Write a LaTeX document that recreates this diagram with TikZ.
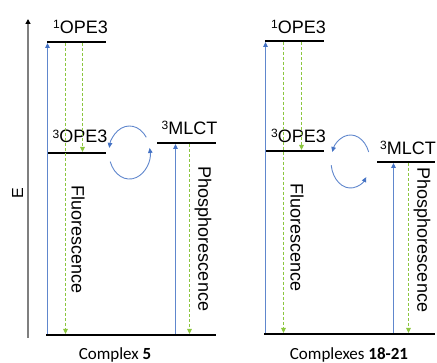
\documentclass[tikz,border=0pt]{standalone}
\usepackage{fontspec}
\setmainfont{Liberation Sans}
\newfontfamily\capfont{Carlito}
\usetikzlibrary{arrows.meta}
\definecolor{eblue}{HTML}{4472C4}
\definecolor{egreen}{HTML}{8CC63F}
\definecolor{axgray}{HTML}{7F7F7F}
\newcommand{\sps}[1]{\raisebox{4.2pt}{\fontsize{12}{12}\selectfont #1}}
\begin{document}
\begin{tikzpicture}[x=1pt,y=-1pt,
  level/.style={line width=1.8pt, black},
  excite/.style={eblue!85, line width=1pt, -{Triangle[length=5pt,width=4.5pt,color=eblue,fill=eblue]}},
  emit/.style={egreen, line width=1pt, dash pattern=on 3pt off 2pt, -{Triangle[length=5pt,width=4.5pt]}},
  isc/.style={eblue!85, line width=0.9pt, -{Triangle[length=5pt,width=4.5pt,color=eblue,fill=eblue]}},
  axis/.style={axgray, line width=1.5pt, -{Triangle[length=5pt,width=5pt,color=black,fill=black]}},
  lbl/.style={font=\fontsize{18}{20}\selectfont, inner sep=0pt},
  capl/.style={font=\capfont\fontsize{17}{19}\selectfont, inner sep=0pt}]
\useasboundingbox (0,0) rectangle (437,363);

% ---------------- left panel ----------------
\coordinate (axB) at (28,338);
\coordinate (axT) at (28,19);
\draw[axis] (axB) -- (axT);
\node[lbl, font=\fontsize{16}{18}\selectfont, rotate=90] (E) at (17.5,193) {E};

\coordinate (aS1l) at (47,42);  \coordinate (aS1r) at (106,42);
\coordinate (aT1l) at (47,153); \coordinate (aT1r) at (106,153);
\coordinate (aMl) at (157,143); \coordinate (aMr) at (216,143);
\coordinate (aGl) at (46,335);  \coordinate (aGr) at (216,335);
\draw[level] (aS1l) -- (aS1r);
\draw[level] (aT1l) -- (aT1r);
\draw[level] (aMl) -- (aMr);
\draw[level] (aGl) -- (aGr);

\node[lbl] (aS1t) at (80.5,27) {\sps{1}OPE3};
\node[lbl] (aT1t) at (80,136.5) {\sps{3}OPE3};
\node[lbl] (aMt) at (189.5,128) {\sps{3}MLCT};

\coordinate (aX1b) at (47.5,334); \coordinate (aX1t) at (47.5,43);
\draw[excite] (aX1b) -- (aX1t);
\coordinate (aF1t) at (65.5,43);  \coordinate (aF1b) at (65.5,334);
\draw[emit] (aF1t) -- (aF1b);
\coordinate (aIt) at (82.5,43);   \coordinate (aIb) at (82.5,152);
\draw[emit] (aIt) -- (aIb);
\coordinate (aX2b) at (175.5,334); \coordinate (aX2t) at (175.5,144);
\draw[excite] (aX2b) -- (aX2t);
\coordinate (aP1t) at (189.5,144); \coordinate (aP1b) at (189.5,334);
\draw[emit] (aP1t) -- (aP1b);

\node[lbl, rotate=-90] (aF) at (78,240) {Fluorescence};
\node[lbl, rotate=-90] (aP) at (203,239) {Phosphorescence};

% intersystem crossing cycle (centre 129.5,152.5)
\coordinate (aCu) at (146.3,137.3);
\coordinate (aCd) at (110.2,161.6);
\draw[isc] (aCu) arc[start angle=-35, end angle=-170, x radius=20.5, y radius=26.5];
\draw[isc] (aCd) arc[start angle=-200, end angle=-370, x radius=20.5, y radius=26.5];

\node[capl] (aCap) at (115,355) {Complex \textbf{5}};

% ---------------- right panel ----------------
\coordinate (bS1l) at (265,41);  \coordinate (bS1r) at (324,41);
\coordinate (bT1l) at (265,151); \coordinate (bT1r) at (324,151);
\coordinate (bMl) at (377,162);  \coordinate (bMr) at (435,162);
\coordinate (bGl) at (264,334);  \coordinate (bGr) at (435,334);
\draw[level] (bS1l) -- (bS1r);
\draw[level] (bT1l) -- (bT1r);
\draw[level] (bMl) -- (bMr);
\draw[level] (bGl) -- (bGr);

\node[lbl] (bS1t) at (298.5,27) {\sps{1}OPE3};
\node[lbl] (bT1t) at (298.5,136) {\sps{3}OPE3};
\node[lbl] (bMt) at (408,148) {\sps{3}MLCT};

\coordinate (bX1b) at (265.5,333); \coordinate (bX1t) at (265.5,42);
\draw[excite] (bX1b) -- (bX1t);
\coordinate (bF1t) at (283.5,42);  \coordinate (bF1b) at (283.5,333);
\draw[emit] (bF1t) -- (bF1b);
\coordinate (bIt) at (301.5,42);   \coordinate (bIb) at (301.5,150);
\draw[emit] (bIt) -- (bIb);
\coordinate (bX2b) at (393.5,333); \coordinate (bX2t) at (393.5,163);
\draw[excite] (bX2b) -- (bX2t);
\coordinate (bP1t) at (408.5,163); \coordinate (bP1b) at (408.5,333);
\draw[emit] (bP1t) -- (bP1b);

\node[lbl, rotate=-90] (bF) at (297,238) {Fluorescence};
\node[lbl, rotate=-90] (bP) at (422,240) {Phosphorescence};

% intersystem crossing cycle (centre 350.5,161.5)
\coordinate (bCu) at (368.7,152.0);
\coordinate (bCd) at (331.2,165.2);
\draw[isc] (bCu) arc[start angle=-21, end angle=-159, x radius=19.5, y radius=26.5];
\draw[isc] (bCd) arc[start angle=-188, end angle=-324, x radius=19.5, y radius=26.5];

\node[capl] (bCap) at (349,355) {Complexes \textbf{18-21}};
\end{tikzpicture}
\end{document}
